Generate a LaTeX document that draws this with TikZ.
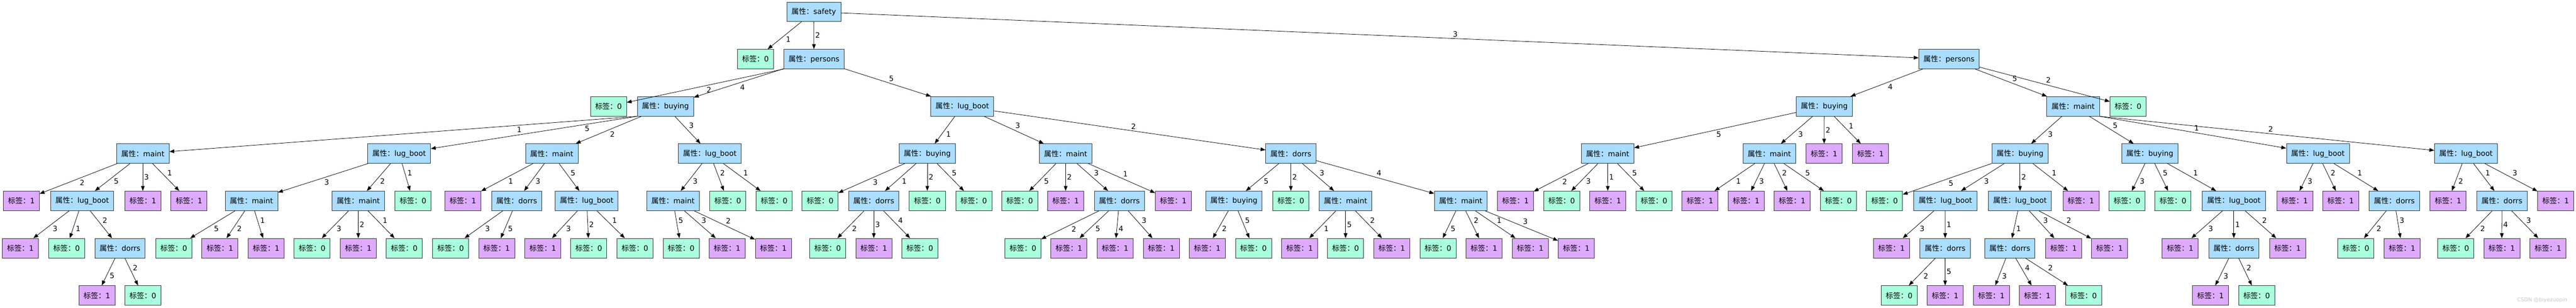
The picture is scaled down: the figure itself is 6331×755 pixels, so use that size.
\documentclass[tikz,border=0pt]{standalone}
\usepackage{fontspec}
\setmainfont{DejaVu Sans}
\newfontfamily\zhfont{Noto Sans CJK SC}
\usetikzlibrary{arrows.meta}
\newcommand{\attrtxt}[1]{{\zhfont 属性：}#1}
\newcommand{\labtxt}[1]{{\zhfont 标签：}#1}
\definecolor{attrblue}{RGB}{170,221,255}
\definecolor{zerogreen}{RGB}{170,255,221}
\definecolor{onepurple}{RGB}{221,170,255}

\begin{document}
\begin{tikzpicture}[x=0.5pt,y=-0.5pt,
  treebox/.style={draw=black!80, line width=0.5pt, minimum height=24pt, inner xsep=5.8pt, inner ysep=0pt, font=\fontsize{9}{10}\selectfont},
  attrnode/.style={treebox, fill=attrblue},
  leafzero/.style={treebox, fill=zerogreen},
  leafone/.style={treebox, fill=onepurple},
  link/.style={line width=0.5pt, -{Triangle[length=6pt,width=4.5pt]}, auto, every node/.style={font=\fontsize{9}{10}\selectfont, inner sep=1.5pt}},
  wmtext/.style={text=black!22, font=\fontsize{6.4}{7}\selectfont}]
\useasboundingbox (0,0) rectangle (6331,755);

\node[attrnode] (r) at (2000,29) {\attrtxt{safety}};

\node[leafzero] (r1) at (1856.5,145) {\labtxt{0}};
\node[attrnode] (r2) at (2000.5,145) {\attrtxt{persons}};
\node[attrnode] (r3) at (4790,145) {\attrtxt{persons}};

\node[leafzero] (r22) at (1495.5,261) {\labtxt{0}};
\node[attrnode] (r24) at (1635.5,261) {\attrtxt{buying}};
\node[attrnode] (r25) at (2365,261) {\attrtxt{lug\_boot}};
\node[attrnode] (r34) at (4483.5,261) {\attrtxt{buying}};
\node[attrnode] (r35) at (5095,261) {\attrtxt{maint}};
\node[leafzero] (r32) at (5230,261) {\labtxt{0}};

\node[attrnode] (r241) at (351,377) {\attrtxt{maint}};
\node[attrnode] (r245) at (981,377) {\attrtxt{lug\_boot}};
\node[attrnode] (r242) at (1356,377) {\attrtxt{maint}};
\node[attrnode] (r243) at (1744.5,377) {\attrtxt{lug\_boot}};
\node[attrnode] (r251) at (2279,377) {\attrtxt{buying}};
\node[attrnode] (r253) at (2619,377) {\attrtxt{maint}};
\node[attrnode] (r252) at (3172.5,377) {\attrtxt{dorrs}};
\node[attrnode] (r345) at (3951,377) {\attrtxt{maint}};
\node[attrnode] (r343) at (4348.5,377) {\attrtxt{maint}};
\node[leafone] (r342) at (4483,377) {\labtxt{1}};
\node[leafone] (r341) at (4597,377) {\labtxt{1}};
\node[attrnode] (r353) at (4964.5,377) {\attrtxt{buying}};
\node[attrnode] (r355) at (5283.5,377) {\attrtxt{buying}};
\node[attrnode] (r351) at (5696.5,377) {\attrtxt{lug\_boot}};
\node[attrnode] (r352) at (6060.5,377) {\attrtxt{lug\_boot}};

\node[leafone] (r2412) at (52.5,493) {\labtxt{1}};
\node[attrnode] (r2415) at (202,493) {\attrtxt{lug\_boot}};
\node[leafone] (r2413) at (351,493) {\labtxt{1}};
\node[leafone] (r2411) at (464.5,493) {\labtxt{1}};
\node[attrnode] (r2453) at (618,493) {\attrtxt{maint}};
\node[attrnode] (r2452) at (880.5,493) {\attrtxt{maint}};
\node[leafzero] (r2451) at (1015,493) {\labtxt{0}};
\node[leafone] (r2421) at (1137.5,493) {\labtxt{1}};
\node[attrnode] (r2423) at (1270,493) {\attrtxt{dorrs}};
\node[attrnode] (r2425) at (1442,493) {\attrtxt{lug\_boot}};
\node[attrnode] (r2433) at (1654,493) {\attrtxt{maint}};
\node[leafzero] (r2432) at (1788.5,493) {\labtxt{0}};
\node[leafzero] (r2431) at (1902.5,493) {\labtxt{0}};
\node[leafzero] (r2513) at (2015.5,493) {\labtxt{0}};
\node[attrnode] (r2511) at (2147.5,493) {\attrtxt{dorrs}};
\node[leafzero] (r2512) at (2279,493) {\labtxt{0}};
\node[leafzero] (r2515) at (2393,493) {\labtxt{0}};
\node[leafzero] (r2535) at (2506,493) {\labtxt{0}};
\node[leafone] (r2532) at (2619,493) {\labtxt{1}};
\node[attrnode] (r2533) at (2751,493) {\attrtxt{dorrs}};
\node[leafone] (r2531) at (2883.5,493) {\labtxt{1}};
\node[attrnode] (r2525) at (3032.5,493) {\attrtxt{buying}};
\node[leafzero] (r2522) at (3172.5,493) {\labtxt{0}};
\node[attrnode] (r2523) at (3307,493) {\attrtxt{maint}};
\node[attrnode] (r2524) at (3590,493) {\attrtxt{maint}};
\node[leafone] (r3452) at (3724.5,493) {\labtxt{1}};
\node[leafzero] (r3453) at (3838,493) {\labtxt{0}};
\node[leafone] (r3451) at (3951.5,493) {\labtxt{1}};
\node[leafzero] (r3455) at (4065,493) {\labtxt{0}};
\node[leafone] (r3431) at (4178,493) {\labtxt{1}};
\node[leafone] (r3433) at (4291.5,493) {\labtxt{1}};
\node[leafone] (r3432) at (4404.5,493) {\labtxt{1}};
\node[leafzero] (r3435) at (4518,493) {\labtxt{0}};
\node[leafzero] (r3535) at (4631.5,493) {\labtxt{0}};
\node[attrnode] (r3533) at (4781,493) {\attrtxt{lug\_boot}};
\node[attrnode] (r3532) at (4964.5,493) {\attrtxt{lug\_boot}};
\node[leafone] (r3531) at (5114,493) {\labtxt{1}};
\node[leafzero] (r3553) at (5227.5,493) {\labtxt{0}};
\node[leafzero] (r3555) at (5340.5,493) {\labtxt{0}};
\node[attrnode] (r3551) at (5490,493) {\attrtxt{lug\_boot}};
\node[leafone] (r3513) at (5639.5,493) {\labtxt{1}};
\node[leafone] (r3512) at (5752.5,493) {\labtxt{1}};
\node[attrnode] (r3511) at (5884.5,493) {\attrtxt{dorrs}};
\node[leafone] (r3522) at (6016.5,493) {\labtxt{1}};
\node[attrnode] (r3521) at (6149,493) {\attrtxt{dorrs}};
\node[leafone] (r3523) at (6281,493) {\labtxt{1}};

\node[leafone] (r24153) at (50,609) {\labtxt{1}};
\node[leafzero] (r24151) at (163.5,609) {\labtxt{0}};
\node[attrnode] (r24152) at (295,609) {\attrtxt{dorrs}};
\node[leafzero] (r24535) at (427,609) {\labtxt{0}};
\node[leafone] (r24532) at (540.5,609) {\labtxt{1}};
\node[leafone] (r24531) at (654,609) {\labtxt{1}};
\node[leafzero] (r24523) at (767,609) {\labtxt{0}};
\node[leafone] (r24522) at (880.5,609) {\labtxt{1}};
\node[leafzero] (r24521) at (993.5,609) {\labtxt{0}};
\node[leafzero] (r24233) at (1107.5,609) {\labtxt{0}};
\node[leafone] (r24235) at (1220.5,609) {\labtxt{1}};
\node[leafone] (r24253) at (1334,609) {\labtxt{1}};
\node[leafzero] (r24252) at (1447,609) {\labtxt{0}};
\node[leafzero] (r24251) at (1560.5,609) {\labtxt{0}};
\node[leafzero] (r24335) at (1674,609) {\labtxt{0}};
\node[leafone] (r24333) at (1787,609) {\labtxt{1}};
\node[leafone] (r24332) at (1900.5,609) {\labtxt{1}};
\node[leafzero] (r25112) at (2034,609) {\labtxt{0}};
\node[leafone] (r25113) at (2147.5,609) {\labtxt{1}};
\node[leafzero] (r25114) at (2260.5,609) {\labtxt{0}};
\node[leafzero] (r25332) at (2514,609) {\labtxt{0}};
\node[leafone] (r25335) at (2627,609) {\labtxt{1}};
\node[leafone] (r25334) at (2740.5,609) {\labtxt{1}};
\node[leafone] (r25333) at (2854,609) {\labtxt{1}};
\node[leafone] (r25252) at (2967,609) {\labtxt{1}};
\node[leafzero] (r25255) at (3080.5,609) {\labtxt{0}};
\node[leafone] (r25231) at (3194,609) {\labtxt{1}};
\node[leafzero] (r25235) at (3307,609) {\labtxt{0}};
\node[leafone] (r25232) at (3420.5,609) {\labtxt{1}};
\node[leafzero] (r25245) at (3534,609) {\labtxt{0}};
\node[leafone] (r25242) at (3647,609) {\labtxt{1}};
\node[leafone] (r25241) at (3760.5,609) {\labtxt{1}};
\node[leafone] (r25243) at (3874,609) {\labtxt{1}};
\node[leafone] (r35333) at (4648.5,609) {\labtxt{1}};
\node[attrnode] (r35331) at (4780.5,609) {\attrtxt{dorrs}};
\node[attrnode] (r35321) at (4939.5,609) {\attrtxt{dorrs}};
\node[leafone] (r35323) at (5071.5,609) {\labtxt{1}};
\node[leafone] (r35322) at (5184.5,609) {\labtxt{1}};
\node[leafone] (r35513) at (5358,609) {\labtxt{1}};
\node[attrnode] (r35511) at (5490,609) {\attrtxt{dorrs}};
\node[leafone] (r35512) at (5622,609) {\labtxt{1}};
\node[leafzero] (r35112) at (5790,609) {\labtxt{0}};
\node[leafone] (r35113) at (5903.5,609) {\labtxt{1}};
\node[leafzero] (r35212) at (6035.5,609) {\labtxt{0}};
\node[leafone] (r35214) at (6148.5,609) {\labtxt{1}};
\node[leafone] (r35213) at (6262,609) {\labtxt{1}};

\node[leafone] (r241525) at (238,725) {\labtxt{1}};
\node[leafzero] (r241522) at (351,725) {\labtxt{0}};
\node[leafzero] (r353312) at (4667.5,725) {\labtxt{0}};
\node[leafone] (r353315) at (4780.5,725) {\labtxt{1}};
\node[leafone] (r353213) at (4894,725) {\labtxt{1}};
\node[leafone] (r353214) at (5007,725) {\labtxt{1}};
\node[leafzero] (r353212) at (5120.5,725) {\labtxt{0}};
\node[leafone] (r355113) at (5432.5,725) {\labtxt{1}};
\node[leafzero] (r355112) at (5546,725) {\labtxt{0}};

\node[wmtext] (wm) at (6248,737) {CSDN @biyezuopin};

\draw[link] (r) -- node {1} (r1);
\draw[link] (r) -- node {2} (r2);
\draw[link] (r) -- node[pos=0.57] {3} (r3);
\draw[link] (r2.south west) -- node {2} (r22);
\draw[link] (r2) -- node {4} (r24);
\draw[link] (r2) -- node {5} (r25);
\draw[link] (r3) -- node {4} (r34);
\draw[link] (r3) -- node {5} (r35);
\draw[link] (r3) -- node {2} (r32);

\draw[link] (r24.south west) -- node[pos=0.26] {1} (r241);
\draw[link] (r24.south west) -- node[pos=0.26] {5} (r245);
\draw[link] (r24) -- node {2} (r242);
\draw[link] (r24) -- node {3} (r243);
\draw[link] (r25) -- node {1} (r251);
\draw[link] (r25) -- node {3} (r253);
\draw[link] (r25) -- node {2} (r252);
\draw[link] (r34) -- node {5} (r345);
\draw[link] (r34) -- node {3} (r343);
\draw[link] (r34) -- node {2} (r342);
\draw[link] (r34) -- node {1} (r341);
\draw[link] (r35) -- node {3} (r353);
\draw[link] (r35) -- node {5} (r355);
\draw[link] (r35.south east) -- node {1} (r351);
\draw[link] (r35.south east) -- node {2} (r352);

\draw[link] (r241) -- node {2} (r2412);
\draw[link] (r241) -- node {5} (r2415);
\draw[link] (r241) -- node {3} (r2413);
\draw[link] (r241) -- node {1} (r2411);
\draw[link] (r245) -- node {3} (r2453);
\draw[link] (r245) -- node {2} (r2452);
\draw[link] (r245) -- node {1} (r2451);
\draw[link] (r242) -- node {1} (r2421);
\draw[link] (r242) -- node {3} (r2423);
\draw[link] (r242) -- node {5} (r2425);
\draw[link] (r243) -- node {3} (r2433);
\draw[link] (r243) -- node {2} (r2432);
\draw[link] (r243) -- node {1} (r2431);
\draw[link] (r251) -- node {3} (r2513);
\draw[link] (r251) -- node {1} (r2511);
\draw[link] (r251) -- node {2} (r2512);
\draw[link] (r251) -- node {5} (r2515);
\draw[link] (r253) -- node {5} (r2535);
\draw[link] (r253) -- node {2} (r2532);
\draw[link] (r253) -- node {3} (r2533);
\draw[link] (r253) -- node {1} (r2531);
\draw[link] (r252) -- node {5} (r2525);
\draw[link] (r252) -- node {2} (r2522);
\draw[link] (r252) -- node {3} (r2523);
\draw[link] (r252) -- node {4} (r2524);
\draw[link] (r345) -- node {2} (r3452);
\draw[link] (r345) -- node {3} (r3453);
\draw[link] (r345) -- node {1} (r3451);
\draw[link] (r345) -- node {5} (r3455);
\draw[link] (r343) -- node {1} (r3431);
\draw[link] (r343) -- node {3} (r3433);
\draw[link] (r343) -- node {2} (r3432);
\draw[link] (r343) -- node {5} (r3435);
\draw[link] (r353) -- node {5} (r3535);
\draw[link] (r353) -- node {3} (r3533);
\draw[link] (r353) -- node {2} (r3532);
\draw[link] (r353) -- node {1} (r3531);
\draw[link] (r355) -- node {3} (r3553);
\draw[link] (r355) -- node {5} (r3555);
\draw[link] (r355) -- node {1} (r3551);
\draw[link] (r351) -- node {3} (r3513);
\draw[link] (r351) -- node {2} (r3512);
\draw[link] (r351) -- node {1} (r3511);
\draw[link] (r352) -- node {2} (r3522);
\draw[link] (r352) -- node {1} (r3521);
\draw[link] (r352) -- node {3} (r3523);

\draw[link] (r2415) -- node {3} (r24153);
\draw[link] (r2415) -- node {1} (r24151);
\draw[link] (r2415) -- node {2} (r24152);
\draw[link] (r2453) -- node {5} (r24535);
\draw[link] (r2453) -- node {2} (r24532);
\draw[link] (r2453) -- node {1} (r24531);
\draw[link] (r2452) -- node {3} (r24523);
\draw[link] (r2452) -- node {2} (r24522);
\draw[link] (r2452) -- node {1} (r24521);
\draw[link] (r2423) -- node {3} (r24233);
\draw[link] (r2423) -- node {5} (r24235);
\draw[link] (r2425) -- node {3} (r24253);
\draw[link] (r2425) -- node {2} (r24252);
\draw[link] (r2425) -- node {1} (r24251);
\draw[link] (r2433) -- node {5} (r24335);
\draw[link] (r2433) -- node {3} (r24333);
\draw[link] (r2433) -- node {2} (r24332);
\draw[link] (r2511) -- node {2} (r25112);
\draw[link] (r2511) -- node {3} (r25113);
\draw[link] (r2511) -- node {4} (r25114);
\draw[link] (r2533) -- node {2} (r25332);
\draw[link] (r2533) -- node {5} (r25335);
\draw[link] (r2533) -- node {4} (r25334);
\draw[link] (r2533) -- node {3} (r25333);
\draw[link] (r2525) -- node {2} (r25252);
\draw[link] (r2525) -- node {5} (r25255);
\draw[link] (r2523) -- node {1} (r25231);
\draw[link] (r2523) -- node {5} (r25235);
\draw[link] (r2523) -- node {2} (r25232);
\draw[link] (r2524) -- node {5} (r25245);
\draw[link] (r2524) -- node {2} (r25242);
\draw[link] (r2524) -- node {1} (r25241);
\draw[link] (r2524) -- node {3} (r25243);
\draw[link] (r3533) -- node {3} (r35333);
\draw[link] (r3533) -- node {1} (r35331);
\draw[link] (r3532) -- node {1} (r35321);
\draw[link] (r3532) -- node {3} (r35323);
\draw[link] (r3532) -- node {2} (r35322);
\draw[link] (r3551) -- node {3} (r35513);
\draw[link] (r3551) -- node {1} (r35511);
\draw[link] (r3551) -- node {2} (r35512);
\draw[link] (r3511) -- node {2} (r35112);
\draw[link] (r3511) -- node {3} (r35113);
\draw[link] (r3521) -- node {2} (r35212);
\draw[link] (r3521) -- node {4} (r35214);
\draw[link] (r3521) -- node {3} (r35213);

\draw[link] (r24152) -- node {5} (r241525);
\draw[link] (r24152) -- node {2} (r241522);
\draw[link] (r35331) -- node {2} (r353312);
\draw[link] (r35331) -- node {5} (r353315);
\draw[link] (r35321) -- node {3} (r353213);
\draw[link] (r35321) -- node {4} (r353214);
\draw[link] (r35321) -- node {2} (r353212);
\draw[link] (r35511) -- node {3} (r355113);
\draw[link] (r35511) -- node {2} (r355112);
\end{tikzpicture}
\end{document}
